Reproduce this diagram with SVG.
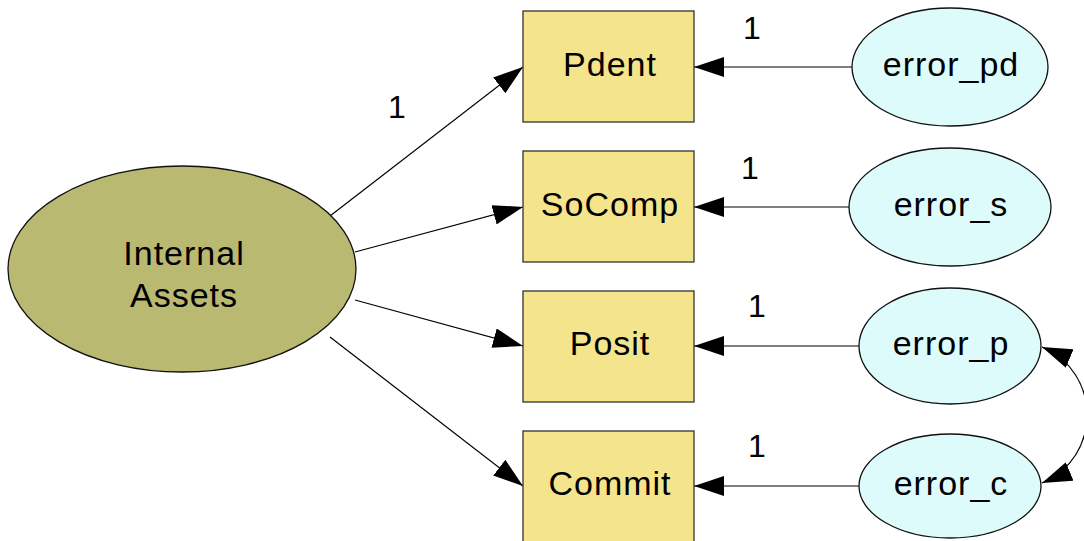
<svg xmlns="http://www.w3.org/2000/svg" width="1084" height="541" viewBox="0 0 1084 541">
<defs>
<style>
.box{fill:#F4E48C;stroke:#333;stroke-width:1.3}
.lat{fill:#B9B971;stroke:#111;stroke-width:1.3}
.err{fill:#DEFBFC;stroke:#111;stroke-width:1.3}
.t{font-family:"Liberation Sans",Arial,sans-serif;font-size:34px;letter-spacing:1px;fill:#000;text-anchor:middle}
.lbl{font-family:"Liberation Sans",Arial,sans-serif;font-size:32px;fill:#000;text-anchor:middle}
.c{stroke:#000;stroke-width:1.2;fill:none;marker-end:url(#ah)}
.g{stroke:#555;stroke-width:1.4;fill:none;marker-end:url(#ah)}
</style>
<marker id="ah" viewBox="0 0 30 20" refX="30" refY="10" markerWidth="30" markerHeight="20" markerUnits="userSpaceOnUse" orient="auto-start-reverse">
<path d="M0,0 L30,10 L0,20 Z" fill="#000"/>
</marker>
</defs>
<g id="connectors">
<line class="c" x1="330" y1="216" x2="523" y2="67"/>
<line class="c" x1="355" y1="252" x2="523" y2="207"/>
<line class="c" x1="355" y1="300" x2="523" y2="346"/>
<line class="c" x1="330" y1="337" x2="523" y2="486"/>
<line class="g" x1="852" y1="67" x2="694" y2="67"/>
<line class="g" x1="849" y1="207" x2="694" y2="207"/>
<line class="g" x1="859" y1="346" x2="694" y2="346"/>
<line class="g" x1="859" y1="486" x2="694" y2="486"/>
<path class="c" d="M1042,347 C1102,372 1102,458 1042,483" marker-start="url(#ah)"/>
<text class="lbl" x="397" y="118">1</text>
<text class="lbl" x="752" y="39">1</text>
<text class="lbl" x="750" y="179">1</text>
<text class="lbl" x="757" y="317">1</text>
<text class="lbl" x="757" y="457">1</text>
</g>
<g id="internal_assets">
<ellipse class="lat" cx="182" cy="269" rx="174" ry="103"/>
<text class="t" x="184" y="265">Internal</text>
<text class="t" x="184" y="307">Assets</text>
</g>
<g id="pdent"><rect class="box" x="523" y="11" width="171" height="111"/><text class="t" x="610" y="76">Pdent</text></g>
<g id="socomp"><rect class="box" x="523" y="151" width="171" height="111"/><text class="t" x="610" y="216">SoComp</text></g>
<g id="posit"><rect class="box" x="523" y="291" width="171" height="111"/><text class="t" x="610" y="355">Posit</text></g>
<g id="commit"><rect class="box" x="523" y="431" width="171" height="125"/><text class="t" x="610" y="495">Commit</text></g>
<g id="error_pd"><ellipse class="err" cx="950" cy="67" rx="98" ry="59"/><text class="t" x="951" y="76">error_pd</text></g>
<g id="error_s"><ellipse class="err" cx="950" cy="207" rx="101" ry="59"/><text class="t" x="951" y="216">error_s</text></g>
<g id="error_p"><ellipse class="err" cx="950" cy="346" rx="91" ry="58"/><text class="t" x="951" y="355">error_p</text></g>
<g id="error_c"><ellipse class="err" cx="950" cy="486" rx="91" ry="52"/><text class="t" x="951" y="495">error_c</text></g>
</svg>
